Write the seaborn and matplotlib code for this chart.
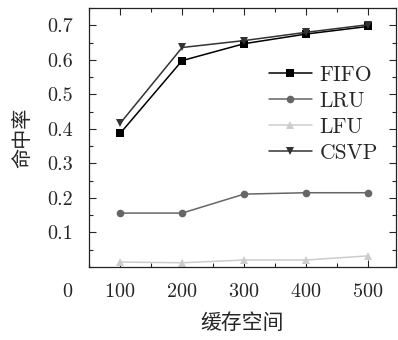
import pandas as pd
import matplotlib
matplotlib.use("Agg")
import matplotlib.pyplot as plt
from matplotlib.ticker import MultipleLocator
import seaborn as sns

# cache size on the x axis
cache_sizes = [100, 200, 300, 400, 500]

# hit rate of each policy
fifo = [0.387, 0.598, 0.647, 0.675, 0.697]
lru = [0.156, 0.156, 0.211, 0.215, 0.215]
lfu = [0.014, 0.012, 0.020, 0.020, 0.032]
csvp = [0.416, 0.636, 0.656, 0.680, 0.702]

policies = ["FIFO", "LRU", "LFU", "CSVP"]
series = [fifo, lru, lfu, csvp]

rows = []
for name, vals in zip(policies, series):
    for x, v in zip(cache_sizes, vals):
        rows.append({"size": x, "hit": v, "policy": name})
df = pd.DataFrame(rows)

sns.set_style("ticks")
plt.rcParams["font.family"] = ["cmr10", "Noto Sans CJK SC", "DejaVu Sans"]
plt.rcParams["axes.formatter.use_mathtext"] = True
plt.rcParams["mathtext.fontset"] = "cm"

palette = {"FIFO": "#000000", "LRU": "#666666", "LFU": "#cccccc", "CSVP": "#333333"}
markers = {"FIFO": "s", "LRU": "o", "LFU": "^", "CSVP": "v"}

fig = plt.figure(figsize=(3.98, 3.40), dpi=100)
ax = fig.add_axes([0.224, 0.215, 0.771, 0.761])

sns.lineplot(data=df, x="size", y="hit", hue="policy", style="policy",
             palette=palette, markers=markers, dashes=False, markersize=5.5,
             markeredgewidth=0, linewidth=1.1, ax=ax, hue_order=policies,
             style_order=policies)

ax.set_xlim(50, 545)
ax.set_ylim(0, 0.75)
ax.set_xticks(cache_sizes)
ax.xaxis.set_minor_locator(MultipleLocator(50))
ax.set_yticks([0.1, 0.2, 0.3, 0.4, 0.5, 0.6, 0.7])
ax.yaxis.set_minor_locator(MultipleLocator(0.05))
ax.set_yticklabels(["0.1", "0.2", "0.3", "0.4", "0.5", "0.6", "0.7"])
ax.tick_params(which="both", direction="in", top=True, right=True, width=0.8)
ax.tick_params(which="major", length=5, labelsize=14.5, pad=11.5)
ax.tick_params(which="minor", length=3)
for s in ax.spines.values():
    s.set_linewidth(0.9)
    s.set_color("#222222")

# the stray zero label at the corner
ax.text(-0.072, -0.098, "0", transform=ax.transAxes, fontsize=14.5,
        ha="center", va="center")

ax.set_xlabel("缓存空间", fontsize=15, family="Noto Sans CJK SC", labelpad=8)
ax.set_ylabel("命中率", fontsize=14.5, family="Noto Sans CJK SC", labelpad=10)

ax.legend(loc="upper left", bbox_to_anchor=(0.586, 0.78), frameon=False,
          fontsize=15.5, handlelength=2.0, handletextpad=0.35, labelspacing=0.3,
          borderaxespad=0, borderpad=0)

fig.savefig("out.png", dpi=100)
